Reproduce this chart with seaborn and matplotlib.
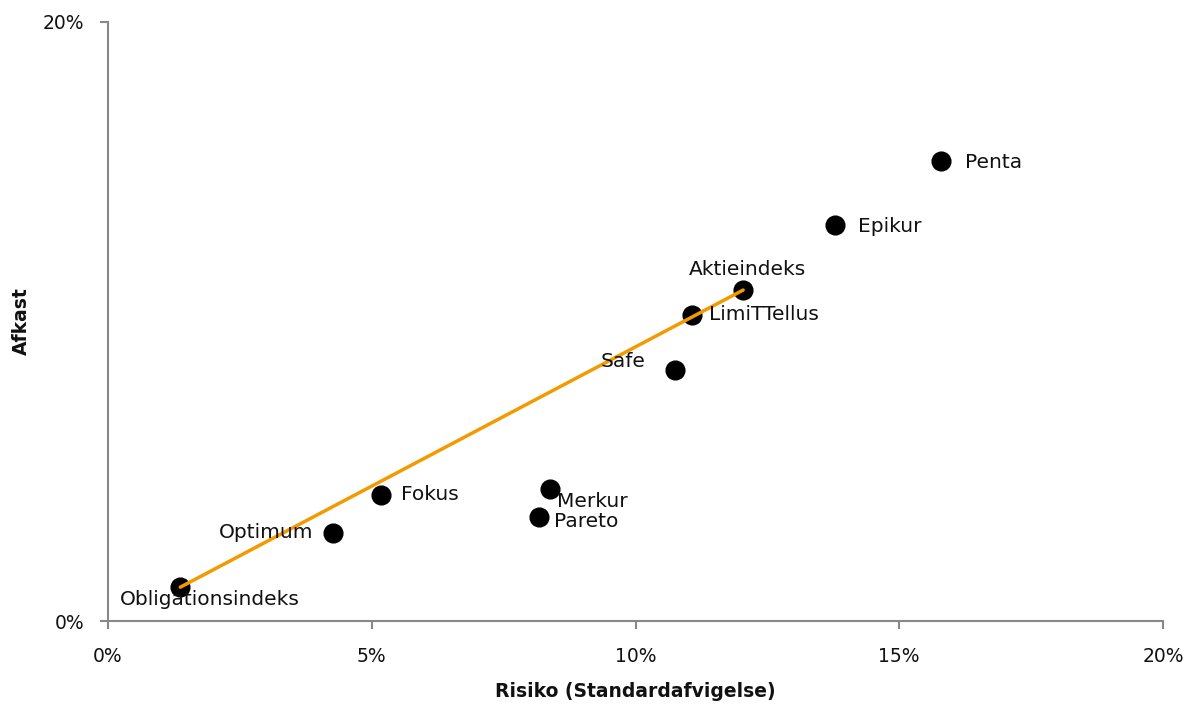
import matplotlib
matplotlib.use("Agg")
import matplotlib.pyplot as plt
import seaborn as sns
import pandas as pd
from matplotlib.ticker import PercentFormatter

# fund data (in %)
funds = ['Obligationsindeks', 'Optimum', 'Fokus', 'Pareto', 'Merkur',
         'Safe', 'LimiTTellus', 'Aktieindeks', 'Epikur', 'Penta']
risk = [1.37, 4.27, 5.18, 8.17, 8.38, 10.75, 11.07, 12.04, 13.78, 15.79]
ret = [1.13, 2.94, 4.21, 3.47, 4.41, 8.38, 10.22, 11.05, 13.22, 15.36]

# label placement (offset points, alignment)
offsets = {
    'Obligationsindeks': ((21, -9), 'center', 'center'),
    'Optimum': ((-14, 0), 'right', 'center'),
    'Fokus': ((14, 0), 'left', 'center'),
    'Pareto': ((11, -3), 'left', 'center'),
    'Merkur': ((5, -9), 'left', 'center'),
    'Safe': ((-21, 6), 'right', 'center'),
    'LimiTTellus': ((12, 0), 'left', 'center'),
    'Aktieindeks': ((3, 15), 'center', 'center'),
    'Epikur': ((17, -1), 'left', 'center'),
    'Penta': ((17, -1), 'left', 'center'),
}

df = pd.DataFrame({'Fund': funds, 'Risk': risk, 'Return': ret})
line = df[df['Fund'].isin(['Obligationsindeks', 'Aktieindeks'])]

sns.set_style('white')
plt.rcParams['font.family'] = ['DejaVu Sans']

fig = plt.figure(figsize=(11.95, 7.07), dpi=100)
ax = fig.add_axes([0.0904, 0.1216, 0.8828, 0.8473])

sns.lineplot(data=line, x='Risk', y='Return', color='#F39A00', linewidth=2.5, ax=ax, zorder=3)
sns.scatterplot(data=df, x='Risk', y='Return', color='black', s=180, edgecolor='black', ax=ax, zorder=2)

for f, x, y in zip(funds, risk, ret):
    (dx, dy), ha, va = offsets[f]
    ax.annotate(f, (x, y), xytext=(dx, dy), textcoords='offset points',
                ha=ha, va=va, fontsize=14.5, color='#111111', zorder=4)

ax.set_xlim(0, 20)
ax.set_ylim(0, 20)
ax.set_xticks([0, 5, 10, 15, 20])
ax.set_yticks([0, 20])
ax.xaxis.set_major_formatter(PercentFormatter(decimals=0))
ax.yaxis.set_major_formatter(PercentFormatter(decimals=0))
ax.tick_params(axis='both', direction='out', length=6, width=1.5, color='#888888',
               labelsize=13.5, labelcolor='#111111', bottom=True, left=True)
ax.tick_params(axis='x', pad=13)
ax.tick_params(axis='y', pad=11)
for s in ['top', 'right']:
    ax.spines[s].set_visible(False)
for s in ['left', 'bottom']:
    ax.spines[s].set_color('#888888')
    ax.spines[s].set_linewidth(1.5)

ax.set_xlabel('Risiko (Standardafvigelse)', fontsize=13.5, fontweight='bold',
              color='#111111', labelpad=11)
ax.set_ylabel('Afkast', fontsize=13.5, fontweight='bold', color='#111111', labelpad=9)

fig.savefig('out.png', dpi=100)
